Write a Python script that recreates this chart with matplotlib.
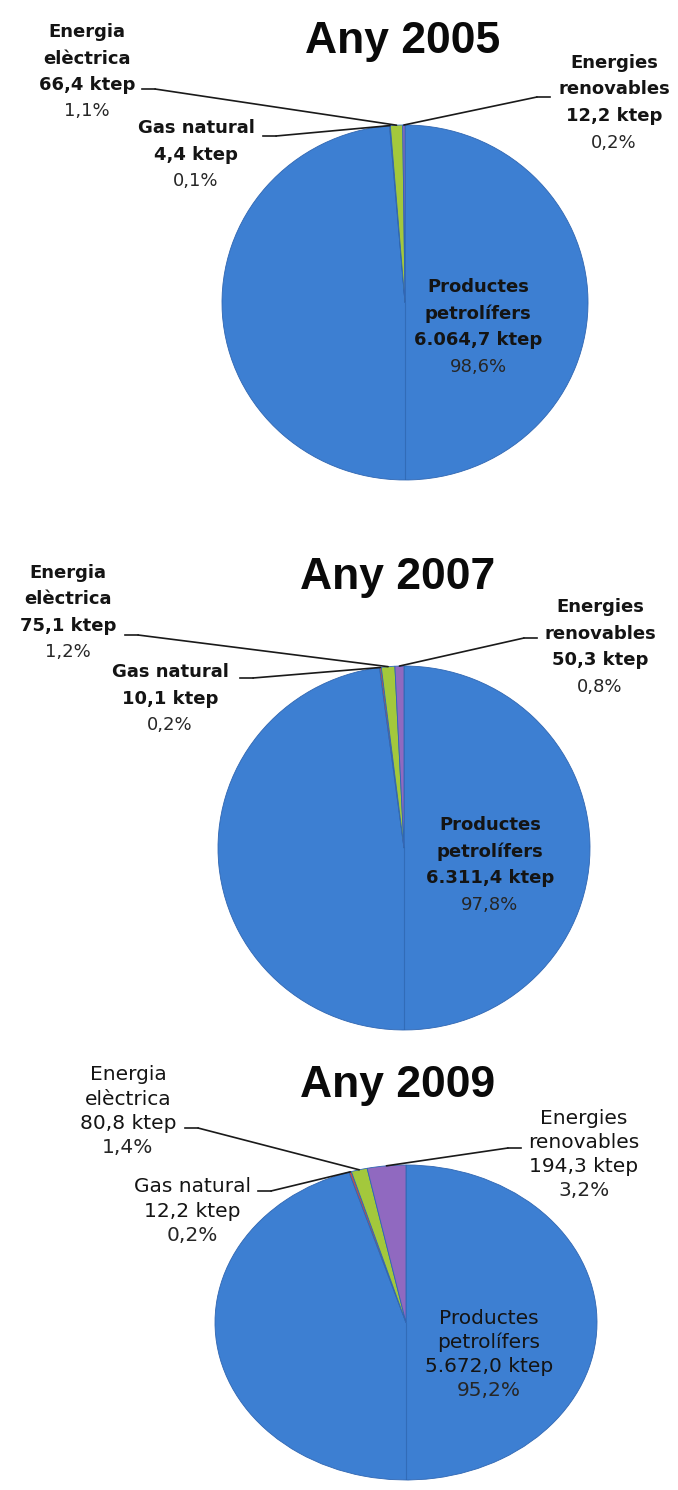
import numpy as np
import matplotlib
matplotlib.use("Agg")
import matplotlib.pyplot as plt
from matplotlib.patches import ConnectionPatch
from matplotlib.lines import Line2D

# ── data ─────────────────────────────────────────────────────────────────────
years      = [2005, 2007, 2009]
petrol     = [6064.7, 6311.4, 5672.0]   # Productes petrolífers (ktep)
gas        = [4.4, 10.1, 12.2]          # Gas natural
elec       = [66.4, 75.1, 80.8]         # Energia elèctrica
renew      = [12.2, 50.3, 194.3]        # Energies renovables
pct_petrol = [98.6, 97.8, 95.2]
pct_gas    = [0.1, 0.2, 0.2]
pct_elec   = [1.1, 1.2, 1.4]
pct_renew  = [0.2, 0.8, 3.2]

colors = ['#3d7fd2', '#c0504d', '#a3c83c', '#9069c0']   # petrol, gas, elec, renew

W, H = 678, 1490


def fx(x):
    return x / W


def fy(y):
    return 1 - y / H


def cat(v, dec=1):
    s = f"{v:,.{dec}f}"
    return s.replace(',', '_').replace('.', ',').replace('_', '.')


# ── layout (pixels from top-left) ────────────────────────────────────────────
layout = {
    2005: dict(pie=(222, 125, 588, 480), title=(403, 42), step=26.5,
               elec=(87, 32), gas=(196, 128), ren=(614, 63), pet=(478, 287),
               elec_lead=(142, 89), gas_lead=(263, 136), ren_lead=(550, 97),
               weight='bold', size=13),
    2007: dict(pie=(218, 666, 590, 1030), title=(398, 578), step=26.5,
               elec=(68, 573), gas=(170, 672), ren=(600, 607), pet=(490, 825),
               elec_lead=(125, 635), gas_lead=(240, 678), ren_lead=(537, 638),
               weight='bold', size=13),
    2009: dict(pie=(215, 1165, 597, 1480), title=(398, 1086), step=24.3,
               elec=(128, 1075), gas=(192, 1187), ren=(584, 1118), pet=(489, 1318),
               elec_lead=(185, 1128), gas_lead=(258, 1191), ren_lead=(521, 1148),
               weight='normal', size=14.5),
}

fig = plt.figure(figsize=(W / 100, H / 100), dpi=100)
fig.patch.set_facecolor('white')


def block(x, y, lines, step, weight, size, pct):
    for i, ln in enumerate(lines):
        fig.text(fx(x), fy(y + i * step), ln, ha='center', va='center',
                 fontsize=size, fontweight=weight, color='#141414',
                 family='DejaVu Sans')
    fig.text(fx(x), fy(y + len(lines) * step), pct, ha='center', va='center',
             fontsize=size, fontweight='normal', color='#262626',
             family='DejaVu Sans')


def leader(ax, start, dx, theta):
    x0, y0 = start
    x1 = x0 + dx
    fig.add_artist(Line2D([fx(x0), fx(x1)], [fy(y0), fy(y0)],
                          transform=fig.transFigure, color='#1a1a1a', lw=1.2))
    con = ConnectionPatch(xyA=(fx(x1), fy(y0)), coordsA='figure fraction',
                          xyB=(np.cos(theta), np.sin(theta)), coordsB=ax.transData,
                          color='#1a1a1a', lw=1.2, zorder=5)
    fig.add_artist(con)


for i, yr in enumerate(years):
    L = layout[yr]
    x0, y0, x1, y1 = L['pie']
    ax = fig.add_axes([fx(x0), fy(y1), fx(x1) - fx(x0), (y1 - y0) / H])
    vals = [petrol[i], gas[i], elec[i], renew[i]]
    ax.pie(vals, colors=colors, startangle=90, counterclock=False,
           wedgeprops=dict(edgecolor='#2f66b2', linewidth=0.6))
    ax.set_aspect('auto')
    ax.set_xlim(-1, 1)
    ax.set_ylim(-1, 1)
    ax.plot([0, 0], [0, -1], color='#2d64ad', lw=0.8, alpha=0.7)

    # mid-angle of each wedge (clockwise from 12 o'clock)
    tot = sum(vals)
    cum = np.cumsum([0] + vals[:-1])
    mids = np.deg2rad(90 - 360 * (cum + np.array(vals) / 2) / tot)

    fig.text(fx(L['title'][0]), fy(L['title'][1]), f"Any {yr}", ha='center',
             va='center', fontsize=32, fontweight='bold', color='#0a0a0a',
             family='Liberation Sans')

    st, wt, sz = L['step'], L['weight'], L['size']
    block(*L['elec'], ['Energia', 'elèctrica', f"{cat(elec[i])} ktep"], st, wt, sz,
          f"{cat(pct_elec[i])}%")
    block(*L['gas'], ['Gas natural', f"{cat(gas[i])} ktep"], st, wt, sz,
          f"{cat(pct_gas[i])}%")
    block(*L['ren'], ['Energies', 'renovables', f"{cat(renew[i])} ktep"], st, wt, sz,
          f"{cat(pct_renew[i])}%")
    block(*L['pet'], ['Productes', 'petrolífers', f"{cat(petrol[i])} ktep"], st, wt, sz,
          f"{cat(pct_petrol[i])}%")

    leader(ax, L['elec_lead'], 13, mids[2])
    leader(ax, L['gas_lead'], 13, mids[1])
    leader(ax, L['ren_lead'], -13, mids[3])

fig.savefig('out.png', dpi=100, facecolor='white')
